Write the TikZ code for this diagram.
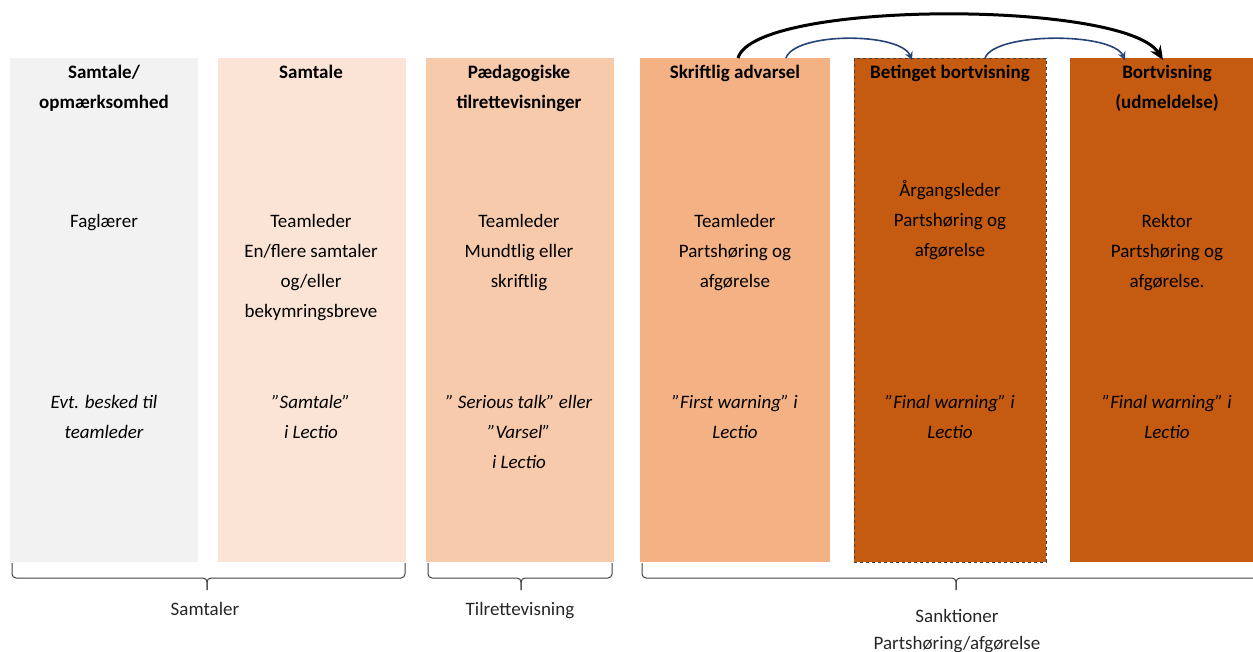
\documentclass[tikz,border=0pt]{standalone}
\usepackage{fontspec}
\setmainfont{Carlito}
\usetikzlibrary{arrows.meta}
\definecolor{cgray}{HTML}{F2F2F2}
\definecolor{cpeach1}{HTML}{FBE4D5}
\definecolor{cpeach2}{HTML}{F7CAAC}
\definecolor{cpeach3}{HTML}{F4B183}
\definecolor{cdark}{HTML}{C55A11}
\definecolor{cblue}{RGB}{38,68,120}
\definecolor{cbrace}{HTML}{404040}
\tikzset{
  col/.style={draw=none, minimum width=188pt, minimum height=504pt, anchor=north west, inner sep=0pt},
  head/.style={font=\fontsize{19}{30}\selectfont\bfseries, align=center, anchor=base},
  body/.style={font=\fontsize{19}{30}\selectfont, align=center, anchor=base},
  note/.style={font=\fontsize{19}{30}\selectfont\itshape, align=center, anchor=base},
  lab/.style={font=\fontsize{19}{27}\selectfont, align=center, anchor=base, text=black!85},
  bracepath/.style={draw=cbrace, line width=1pt, rounded corners=4pt},
  bigarrow/.style={line width=3pt, -{Stealth[length=14pt,width=12pt]}},
  smallarrow/.style={draw=cblue, line width=1.6pt, -{Stealth[length=8pt,width=8pt,open]}}
}
\begin{document}
\begin{tikzpicture}[x=1pt,y=-1pt]
\useasboundingbox (0,0) rectangle (1253,652);
% columns
\node[col, fill=cgray]   (c1) at (10,58) {};
\node[col, fill=cpeach1] (c2) at (218,58) {};
\node[col, fill=cpeach2] (c3) at (426,58) {};
\node[col, fill=cpeach3, minimum width=190pt] (c4) at (640,58) {};
\node[col, fill=cdark, draw=black!75, dashed, line width=0.8pt, minimum width=192pt] (c5) at (854,58) {};
\node[col, fill=cdark, minimum width=200pt] (c6) at (1070,58) {};
% headers (anchor = baseline of last line)
\node[head] (h1) at (104,109) {Samtale/\\opmærksomhed};
\node[head] (h2) at (311,79) {Samtale};
\node[head] (h3) at (519,109) {Pædagogiske\\tilrettevisninger};
\node[head] (h4) at (735,79) {Skriftlig advarsel};
\node[head] (h5) at (950,79) {Betinget bortvisning};
\node[head] (h6) at (1167,109) {Bortvisning\\(udmeldelse)};
% body
\node[body] (b1) at (104,228) {Faglærer};
\node[body] (b2) at (311,318) {Teamleder\\En/flere samtaler\\og/eller\\bekymringsbreve};
\node[body] (b3) at (519,288) {Teamleder\\Mundtlig eller\\skriftlig};
\node[body] (b4) at (735,288) {Teamleder\\Partshøring og\\afgørelse};
\node[body] (b5) at (950,257) {Årgangsleder\\Partshøring og\\afgørelse};
\node[body] (b6) at (1167,288) {Rektor\\Partshøring og\\afgørelse.};
% notes
\node[note] (n1) at (104,438) {Evt. besked til\\teamleder};
\node[note] (n2) at (311,438) {”Samtale”\\i Lectio};
\node[note] (n3) at (519,468) {” Serious talk” eller\\”Varsel”\\i Lectio};
\node[note] (n4) at (735,438) {”First warning” i\\Lectio};
\node[note] (n5) at (950,438) {”Final warning” i\\Lectio};
\node[note] (n6) at (1167,438) {”Final warning” i\\Lectio};
% braces
\draw[bracepath] (12,563) -- (12,578) -- (207,578) -- (207,590);
\draw[bracepath] (405,563) -- (405,578) -- (207,578) -- (207,590);
\draw[bracepath] (428,563) -- (428,578) -- (521,578) -- (521,590);
\draw[bracepath] (612,563) -- (612,578) -- (521,578) -- (521,590);
\draw[bracepath] (642,563) -- (642,578) -- (956,578) -- (956,590);
\draw[bracepath] (1270,563) -- (1270,578) -- (956,578) -- (956,590);
% brace labels
\node[lab] (l1) at (205,615) {Samtaler};
\node[lab] (l2) at (520,615) {Tilrettevisning};
\node[lab] (l3) at (957,649) {Sanktioner\\Partshøring/afgørelse};
% arrows
\coordinate (a4) at (738,58);
\coordinate (s4) at (786,58);
\coordinate (e5) at (912,60);
\coordinate (s5) at (985,58);
\coordinate (e6) at (1125,60);
\coordinate (f6) at (1163,60);
\draw[bigarrow] (a4) .. controls (755,0) and (1125,0) .. (f6);
\draw[smallarrow] (s4) .. controls (795,32) and (900,32) .. (e5);
\draw[smallarrow] (s5) .. controls (995,32) and (1112,32) .. (e6);
\end{tikzpicture}
\end{document}
